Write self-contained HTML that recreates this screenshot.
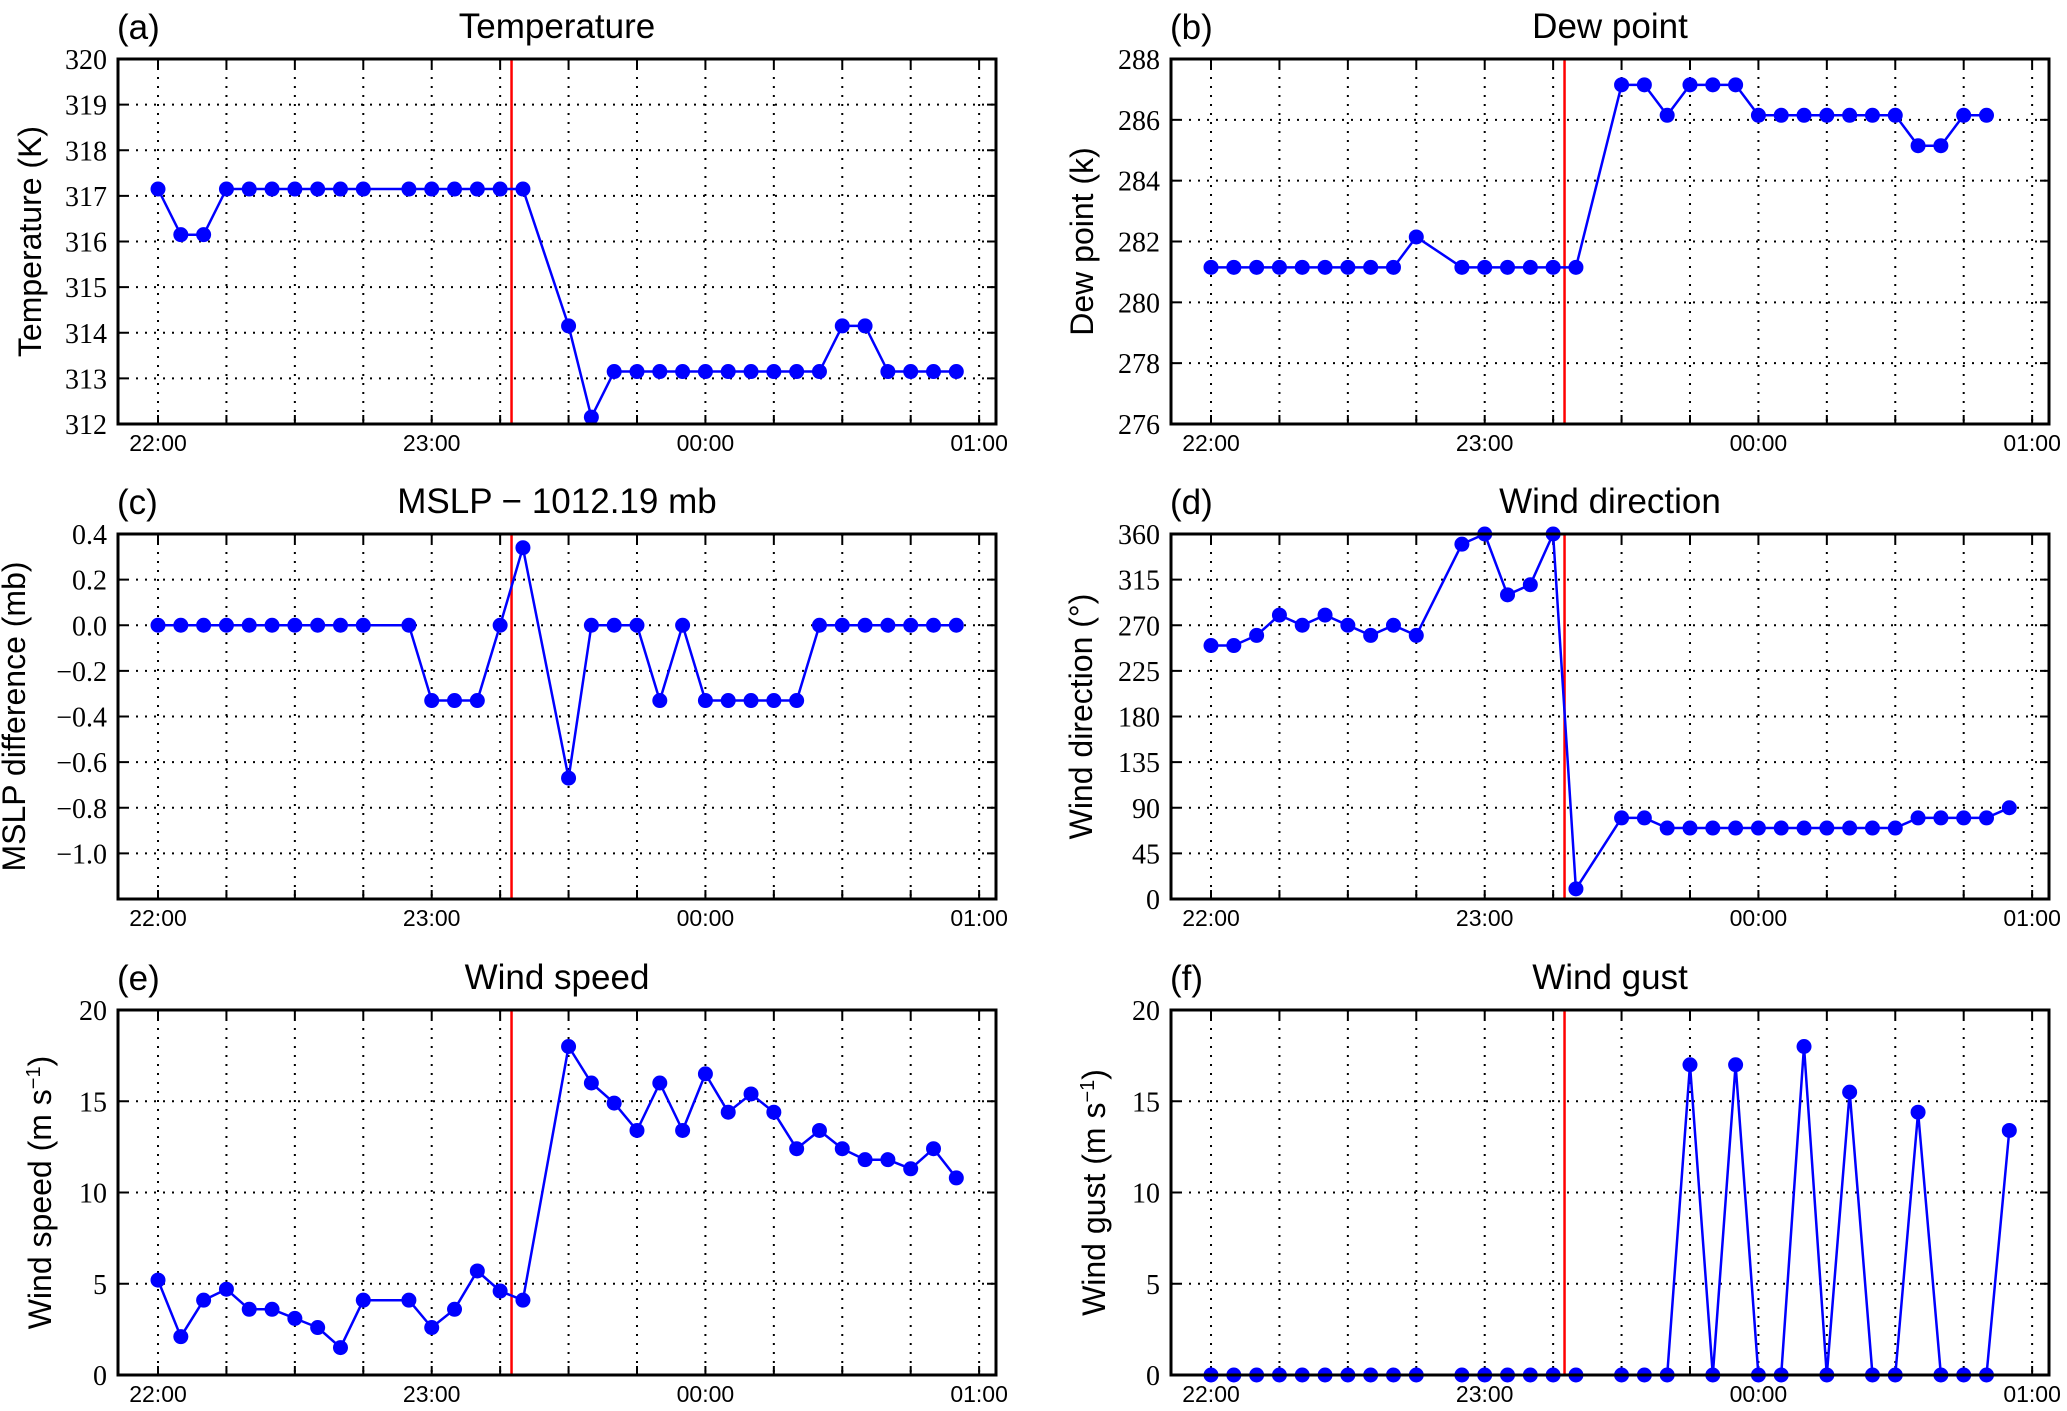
<!DOCTYPE html>
<html><head><meta charset="utf-8"><style>
html,body{margin:0;padding:0;background:#fff;}
svg{display:block;}
</style></head><body>
<svg id="fig" width="2067" height="1411" viewBox="0 0 2067 1411" xmlns="http://www.w3.org/2000/svg"></svg>
<script>
// ---- data (minutes after 22:00) ----
const timesMain = [0,5,10,15,20,25,30,35,40,45,55,60,65,70,75,80,90,95,100,105,110,115,120,125,130,135,140,145,150,155,160,165,170,175];
const timesDew  = [0,5,10,15,20,25,30,35,40,45,55,60,65,70,75,80,90,95,100,105,110,115,120,125,130,135,140,145,150,155,160,165,170];
const tempValues = [317.15,316.15,316.15,317.15,317.15,317.15,317.15,317.15,317.15,317.15,317.15,317.15,317.15,317.15,317.15,317.15,314.15,312.15,313.15,313.15,313.15,313.15,313.15,313.15,313.15,313.15,313.15,313.15,314.15,314.15,313.15,313.15,313.15,313.15];
const dewValues = [281.15,281.15,281.15,281.15,281.15,281.15,281.15,281.15,281.15,282.15,281.15,281.15,281.15,281.15,281.15,281.15,287.15,287.15,286.15,287.15,287.15,287.15,286.15,286.15,286.15,286.15,286.15,286.15,286.15,285.15,285.15,286.15,286.15];
const mslpValues = [0,0,0,0,0,0,0,0,0,0,0,-0.33,-0.33,-0.33,0,0.34,-0.67,0,0,0,-0.33,0,-0.33,-0.33,-0.33,-0.33,-0.33,0,0,0,0,0,0,0];
const dirValues = [250,250,260,280,270,280,270,260,270,260,350,360,300,310,360,10,80,80,70,70,70,70,70,70,70,70,70,70,70,80,80,80,80,90];
const speedValues = [5.2,2.1,4.1,4.7,3.6,3.6,3.1,2.6,1.5,4.1,4.1,2.6,3.6,5.7,4.6,4.1,18.0,16.0,14.9,13.4,16.0,13.4,16.5,14.4,15.4,14.4,12.4,13.4,12.4,11.8,11.8,11.3,12.4,10.8];
const gustValues = [0,0,0,0,0,0,0,0,0,0,0,0,0,0,0,0,0,0,0,17,0,17,0,0,18,0,15.5,0,0,14.4,0,0,0,13.4];
const eventMinute = 77.5;
const xTickMinutes = [0,60,120,180];
const xTickLabels = ["22:00","23:00","00:00","01:00"];
const tempTicks = [312,313,314,315,316,317,318,319,320];
const dewTicks = [276,278,280,282,284,286,288];
const mslpTicks = [-1.0,-0.8,-0.6,-0.4,-0.2,0.0,0.2,0.4];
const mslpTickLabels = ["\u22121.0","\u22120.8","\u22120.6","\u22120.4","\u22120.2","0.0","0.2","0.4"];
const dirTicks = [0,45,90,135,180,225,270,315,360];
const speedTicks = [0,5,10,15,20];
const gustTicks = [0,5,10,15,20];

const NS = "http://www.w3.org/2000/svg";
const svg = document.getElementById('fig');
function mk(tag, attrs, parent){
  const e = document.createElementNS(NS, tag);
  for (const k in attrs) e.setAttribute(k, attrs[k]);
  (parent||svg).appendChild(e);
  return e;
}
const XMIN = -8.77, XMAX = 183.7, W = 878, H = 365;

function panel(p){
  const g = mk('g', {});
  
  
  const L = p.left, T = p.top, R = L + W, B = T + H;
  const sx = m => L + (m - XMIN) / (XMAX - XMIN) * W;
  const sy = v => B - (v - p.ymin) / (p.ymax - p.ymin) * H;
  const grid = mk('g', {stroke:'#000','stroke-width':2,'stroke-dasharray':'2,7'}, g);
  
  
  for (let m = 0; m <= 180; m += 15){
    mk('line', {x1:sx(m), x2:sx(m), y1:T, y2:B}, grid);
  }
  p.ticks.forEach(v => { mk('line', {x1:L, x2:R, y1:sy(v), y2:sy(v)}, grid); });
  const tk = mk('g', {stroke:'#000','stroke-width':2}, g);
  for (let m = 0; m <= 180; m += 15){
    mk('line', {x1:sx(m), x2:sx(m), y1:B, y2:B-9}, tk);
    mk('line', {x1:sx(m), x2:sx(m), y1:T, y2:T+9}, tk);
  }
  p.ticks.forEach(v => {
    mk('line', {x1:L, x2:L+9, y1:sy(v), y2:sy(v)}, tk);
    mk('line', {x1:R, x2:R-9, y1:sy(v), y2:sy(v)}, tk);
  });
  p.ticks.forEach((v,i) => {
    const t = mk('text', {x:L-11, y:sy(v)+10, 'text-anchor':'end','font-family':'"Liberation Serif", serif','font-size':28}, g);
    
    
    t.textContent = p.labels ? p.labels[i] : String(v);
  });
  xTickMinutes.forEach((m,i) => {
    const t = mk('text', {x:sx(m), y:B+27, 'text-anchor':'middle','font-family':'"Liberation Sans", sans-serif','font-size':23}, g);
    
    
    t.textContent = xTickLabels[i];
  });
  const ev = mk('line', {x1:sx(eventMinute), x2:sx(eventMinute), y1:T, y2:B, stroke:'#ff0000','stroke-width':2.5}, g);
  
  
  const pts = p.times.map((m,i) => sx(m).toFixed(1) + ',' + sy(p.values[i]).toFixed(1)).join(' ');
  const line = mk('polyline', {points:pts, fill:'none', stroke:'#0000ff','stroke-width':2.5,'stroke-linejoin':'round'}, g);
  
  
  p.times.forEach((m,i) => {
    const c = mk('circle', {cx:sx(m), cy:sy(p.values[i]), r:7.5, fill:'#0000ff'}, g);
    
    
  });
  const fr = mk('rect', {x:L, y:T, width:W, height:H, fill:'none', stroke:'#000','stroke-width':3}, g);
  
  
  const ti = mk('text', {x:L+W/2, y:T-21, 'text-anchor':'middle','font-family':'"Liberation Sans", sans-serif','font-size':35}, g);
  
  
  ti.textContent = p.title;
  const lt = mk('text', {x:L-1, y:T-20, 'font-family':'"Liberation Sans", sans-serif','font-size':35}, g);
  
  
  lt.textContent = p.letter;
  const yl = mk('text', {x:0, y:0, 'text-anchor':'middle','font-family':'"Liberation Sans", sans-serif','font-size':32,
    transform:'translate(' + (p.ylx + 12) + ',' + (T + H/2) + ') rotate(-90)'}, g);
  
  
  if (p.sup){
    yl.appendChild(document.createTextNode(p.ylabel));
    const s = mk('tspan', {'baseline-shift':'super','font-size':20}, yl);
    s.textContent = '\u22121';
    const e2 = mk('tspan', {}, yl);
    e2.textContent = ')';
  } else {
    yl.textContent = p.ylabel;
  }
}

panel({name:'panel-temperature', left:118, top:59, ymin:312, ymax:320, ticks:tempTicks, times:timesMain, values:tempValues,
  title:'Temperature', letter:'(a)', ylabel:'Temperature (K)', ylx:29});
panel({name:'panel-dew-point', left:1171, top:59, ymin:276, ymax:288, ticks:dewTicks, times:timesDew, values:dewValues,
  title:'Dew point', letter:'(b)', ylabel:'Dew point (k)', ylx:1081});
panel({name:'panel-mslp', left:118, top:534, ymin:-1.2, ymax:0.4, ticks:mslpTicks, labels:mslpTickLabels, times:timesMain, values:mslpValues,
  title:'MSLP \u2212 1012.19 mb', letter:'(c)', ylabel:'MSLP difference (mb)', ylx:13});
panel({name:'panel-wind-direction', left:1171, top:534, ymin:0, ymax:360, ticks:dirTicks, times:timesMain, values:dirValues,
  title:'Wind direction', letter:'(d)', ylabel:'Wind direction (\u00b0)', ylx:1080});
panel({name:'panel-wind-speed', left:118, top:1010, ymin:0, ymax:20, ticks:speedTicks, times:timesMain, values:speedValues,
  title:'Wind speed', letter:'(e)', ylabel:'Wind speed (m s', sup:true, ylx:39});
panel({name:'panel-wind-gust', left:1171, top:1010, ymin:0, ymax:20, ticks:gustTicks, times:timesMain, values:gustValues,
  title:'Wind gust', letter:'(f)', ylabel:'Wind gust (m s', sup:true, ylx:1093});
</script>
</body></html>
